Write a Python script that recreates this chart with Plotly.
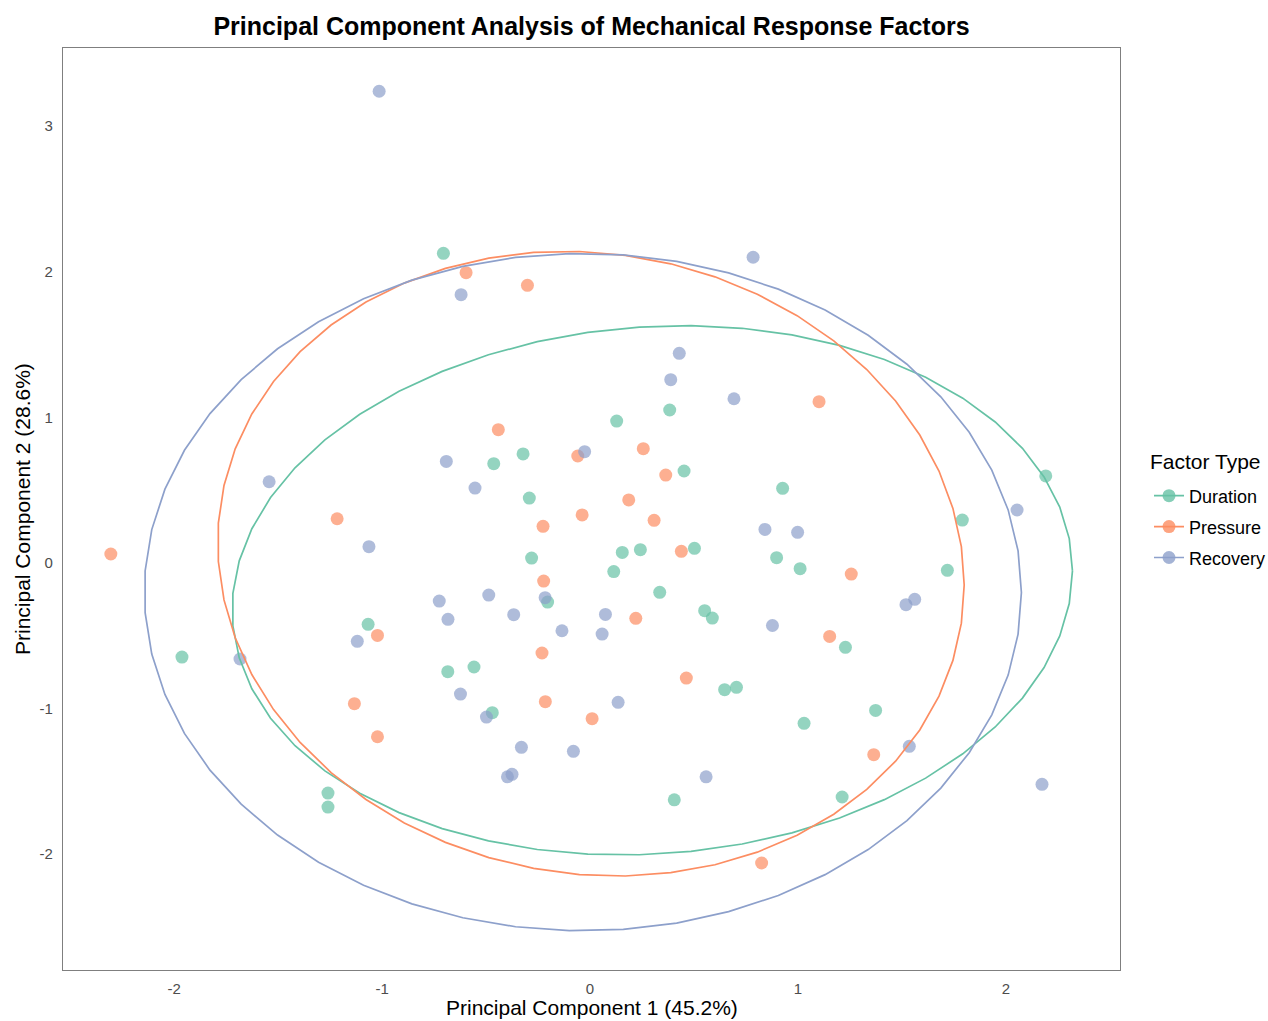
import numpy as np
import plotly.graph_objects as go

# ---------------- data ----------------
groups = ["Duration", "Pressure", "Recovery"]
group_colors = ["#66C2A5", "#FC8D62", "#8DA0CB"]

duration_pc1 = [-0.705, 0.383, 0.128, -0.322, -0.463, 0.452, -0.292, 0.155, 0.242, 0.502,
                -0.281, 0.114, 0.897, -0.204, 0.335, 0.551, 0.588, -0.684, -0.558, 0.926,
                2.191, 1.790, 1.010, 1.718, 1.228, -1.067, -1.962, -1.260, -1.260, -0.470,
                0.647, 0.704, 0.405, 1.029, 1.373, 1.212]
duration_pc2 = [2.127, 1.051, 0.975, 0.749, 0.682, 0.632, 0.446, 0.073, 0.092, 0.101,
                0.034, -0.059, 0.037, -0.268, -0.201, -0.327, -0.378, -0.746, -0.714, 0.513,
                0.598, 0.295, -0.039, -0.050, -0.579, -0.421, -0.646, -1.580, -1.676, -1.028,
                -0.870, -0.854, -1.626, -1.101, -1.012, -1.607]

pressure_pc1 = [-0.596, -0.301, -1.216, -2.304, -1.022, -0.441, 0.256, -0.059, 0.364, 0.186,
                -0.038, 0.308, -0.226, 0.439, -0.223, 0.220, -0.231, 0.463, 1.101, 1.256,
                1.152, -1.133, -1.022, -0.215, 0.010, 0.825, 1.364]
pressure_pc2 = [1.994, 1.907, 0.304, 0.062, -0.497, 0.916, 0.785, 0.735, 0.604, 0.433,
                0.330, 0.293, 0.252, 0.080, -0.124, -0.380, -0.618, -0.790, 1.108, -0.076,
                -0.504, -0.966, -1.193, -0.952, -1.069, -2.060, -1.316]

recovery_pc1 = [-1.014, -0.620, 0.784, 0.429, 0.388, 0.692, -0.026, -0.691, -0.553, 0.841,
                0.998, -1.543, -1.063, -1.119, -1.683, -0.725, -0.487, -0.216, -0.683, -0.367,
                0.074, 0.877, -0.135, 0.058, 2.053, 1.519, 1.561, -0.623, -0.498, 0.135,
                -0.330, -0.080, -0.397, -0.375, 0.558, 1.535, 2.173]
recovery_pc2 = [3.240, 1.843, 2.100, 1.440, 1.259, 1.128, 0.765, 0.698, 0.515, 0.231,
                0.211, 0.558, 0.112, -0.538, -0.659, -0.261, -0.220, -0.238, -0.387, -0.355,
                -0.353, -0.429, -0.465, -0.488, 0.364, -0.286, -0.249, -0.900, -1.058, -0.957,
                -1.266, -1.293, -1.468, -1.451, -1.468, -1.259, -1.520]

x_tick_vals = [-2, -1, 0, 1, 2]
x_tick_text = ["-2", "-1", "0", "1", "2"]
y_tick_vals = [-2, -1, 0, 1, 2, 3]
y_tick_text = ["-2", "-1", "0", "1", "2", "3"]

series_x = [duration_pc1, pressure_pc1, recovery_pc1]
series_y = [duration_pc2, pressure_pc2, recovery_pc2]


# ---------------- stat_ellipse (type = "t", level = 0.95) ----------------
def cov_trob(X, nu=5, maxit=25, tol=0.01):
    n, p = X.shape
    wt = np.ones(n)
    loc = X.mean(axis=0)
    w = np.sqrt(wt)
    Xc = X - loc
    for _ in range(maxit):
        w0 = w
        Xc = X - loc
        sw = np.sqrt(w / w.sum())
        _, d, Vt = np.linalg.svd(sw[:, None] * Xc, full_matrices=False)
        wX = Xc @ Vt.T @ np.diag(1.0 / d)
        Q = (wX ** 2).sum(axis=1)
        w = (wt * (nu + p)) / (nu + Q)
        loc = (w[:, None] * X).sum(axis=0) / w.sum()
        if np.all(np.abs(w - w0) < tol):
            break
    sX = np.sqrt(w)[:, None] * Xc
    cov = sX.T @ sX / wt.sum()
    return loc, cov


def stat_ellipse(x, y, level=0.95, segments=51):
    X = np.column_stack([x, y]).astype(float)
    center, shape = cov_trob(X)
    R = np.linalg.cholesky(shape).T
    dfn, dfd = 2, X.shape[0] - 1
    qf = dfd / 2.0 * ((1 - level) ** (-2.0 / dfd) - 1)
    radius = np.sqrt(dfn * qf)
    ang = np.arange(segments + 1) * 2 * np.pi / segments
    circle = np.column_stack([np.cos(ang), np.sin(ang)])
    ell = center + radius * (circle @ R)
    return ell[:, 0], ell[:, 1]


fig = go.Figure()

for g, c, xs, ys in zip(groups, group_colors, series_x, series_y):
    fig.add_trace(go.Scatter(
        x=xs, y=ys, mode="markers", name=g, legendgroup=g, showlegend=False,
        marker=dict(color=c, size=13, opacity=0.7, line=dict(width=0)),
    ))

for g, c, xs, ys in zip(groups, group_colors, series_x, series_y):
    ex, ey = stat_ellipse(xs, ys)
    fig.add_trace(go.Scatter(
        x=ex, y=ey, mode="lines", name=g, legendgroup=g, showlegend=False,
        line=dict(color=c, width=1.7), hoverinfo="skip",
    ))

for g, c in zip(groups, group_colors):
    fig.add_trace(go.Scatter(
        x=[None], y=[None], mode="lines+markers", name=g, legendgroup=g,
        line=dict(color=c, width=1.7),
        marker=dict(color=c, size=13, opacity=0.8),
    ))

font_family = "Liberation Sans, Arial, sans-serif"
L, R_, T, B = 63, 1120, 48, 970
W, H = 1268, 1021
pw, ph = R_ - L, B - T

fig.update_layout(
    width=W, height=H,
    paper_bgcolor="white", plot_bgcolor="white",
    margin=dict(l=L, r=W - R_, t=T, b=H - B, autoexpand=False),
    font=dict(family=font_family, color="#000000"),
    title=dict(
        text="<b>Principal Component Analysis of Mechanical Response Factors</b>",
        x=(L + R_) / 2 / W, xanchor="center",
        y=1 - 26 / H, yanchor="middle",
        font=dict(size=25, color="#000000", family=font_family),
    ),
    xaxis=dict(
        range=[-2.534, 2.548], showgrid=False, zeroline=False, automargin=False,
        tickmode="array", tickvals=x_tick_vals, ticktext=x_tick_text,
        ticks="", tickfont=dict(size=15, color="#4D4D4D"), ticklabelstandoff=5,
        showline=True, mirror=True, linecolor="#7F7F7F", linewidth=1.3,
    ),
    yaxis=dict(
        range=[-2.795, 3.537], showgrid=False, zeroline=False, automargin=False,
        tickmode="array", tickvals=y_tick_vals, ticktext=y_tick_text,
        ticks="", tickfont=dict(size=15, color="#4D4D4D"), ticklabelstandoff=6,
        showline=True, mirror=True, linecolor="#7F7F7F", linewidth=1.3,
    ),
    annotations=[
        dict(text="Principal Component 1 (45.2%)", xref="paper", yref="paper",
             x=0.5, y=(B - 1008) / ph, xanchor="center", yanchor="middle",
             showarrow=False, font=dict(size=21, color="#000000")),
        dict(text="Principal Component 2 (28.6%)", xref="paper", yref="paper",
             x=(22 - L) / pw, y=0.5, xanchor="center", yanchor="middle",
             textangle=-90, showarrow=False, font=dict(size=21, color="#000000")),
        dict(text="Factor Type", xref="paper", yref="paper",
             x=(1148 - L) / pw, y=(B - 461) / ph, xanchor="left", yanchor="middle",
             showarrow=False, font=dict(size=21, color="#000000")),
    ],
    legend=dict(
        font=dict(size=18, color="#000000"),
        x=(1149 - L) / pw, xanchor="left", y=(B - 527) / ph, yanchor="middle",
        bgcolor="rgba(0,0,0,0)", itemwidth=30, tracegroupgap=4.5,
    ),
)

fig.write_html("out.html")
